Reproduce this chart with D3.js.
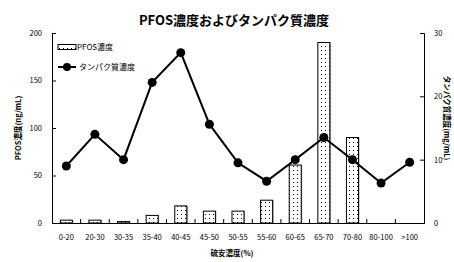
<!DOCTYPE html>
<html>
<head>
<meta charset="utf-8">
<script src="https://cdn.jsdelivr.net/npm/d3@7"></script>
<style>
  body { margin: 0; background: #fff; }
  svg text { font-family: "Noto Sans CJK JP", "Noto Sans", sans-serif; fill: #000; }
</style>
</head>
<body>
<div id="chart"></div>
<script>
// data
const categories = ["0-20", "20-30", "30-35", "35-40", "40-45", "45-50", "50-55",
                    "55-60", "60-65", "65-70", "70-80", "80-100", ">100"];
const pfosValues = [3, 3, 1.5, 8, 18, 12.5, 12.5, 24, 61, 190, 90, 0, 0];
const proteinValues = [9.0, 14.0, 10.0, 22.2, 26.9, 15.6, 9.5, 6.6, 10.0, 13.5, 10.0, 6.3, 9.6];
const leftTicks = [0, 50, 100, 150, 200];
const rightTicks = [0, 10, 20, 30];

const W = 454, H = 262;
const margin = {top: 33, right: 30, bottom: 39, left: 52};
const width = W - margin.left - margin.right;
const height = H - margin.top - margin.bottom;

const svg = d3.select("#chart").append("svg")
    .attr("width", W)
    .attr("height", H);

// dotted fill for the bars
const pat = svg.append("defs").append("pattern")
    .attr("id", "dots")
    .attr("patternUnits", "userSpaceOnUse")
    .attr("width", 4).attr("height", 4);
pat.append("rect").attr("width", 4).attr("height", 4).attr("fill", "#fff");
pat.append("rect").attr("x", 1).attr("y", 1).attr("width", 1).attr("height", 1).attr("fill", "#000");

const g = svg.append("g")
    .attr("transform", "translate(" + margin.left + "," + margin.top + ")");

const x = d3.scaleBand().domain(categories).range([0, width]);
const yL = d3.scaleLinear().domain([0, 200]).range([height, 0]);
const yR = d3.scaleLinear().domain([0, 30]).range([height, 0]);

// axes (ticks inside, like the original)
const xAxis = g.append("g")
    .attr("transform", "translate(0," + height + ")")
    .call(d3.axisBottom(x).tickSize(0).tickPadding(12));
xAxis.selectAll("text").style("font-size", "7.5px");

// category boundary ticks
g.selectAll(".xtick")
    .data(categories.slice(1))
    .enter().append("line")
    .attr("x1", d => x(d)).attr("x2", d => x(d))
    .attr("y1", height).attr("y2", height - 4)
    .attr("stroke", "#000");

const leftAxis = g.append("g")
    .call(d3.axisLeft(yL).tickValues(leftTicks).tickSizeInner(-4).tickSizeOuter(-4).tickPadding(10));
leftAxis.selectAll("text").style("font-size", "7.5px");

const rightAxis = g.append("g")
    .attr("transform", "translate(" + width + ",0)")
    .call(d3.axisRight(yR).tickValues(rightTicks).tickSizeInner(-4).tickSizeOuter(-4).tickPadding(10));
rightAxis.selectAll("text").style("font-size", "7.5px");

g.selectAll(".domain").attr("stroke", "#000");

// bars
const barData = pfosValues.map((v, i) => ({k: categories[i], v: v})).filter(d => d.v > 0);
const bw = x.bandwidth() * 0.42;
g.selectAll(".bar-shadow")
    .data(barData)
    .enter().append("rect")
    .attr("class", "bar-shadow")
    .attr("x", d => x(d.k) + (x.bandwidth() - bw) / 2 + 1)
    .attr("y", d => yL(d.v))
    .attr("width", bw)
    .attr("height", d => height - yL(d.v))
    .attr("fill", "#999");

g.selectAll(".bar")
    .data(barData)
    .enter().append("rect")
    .attr("class", "bar")
    .attr("x", d => x(d.k) + (x.bandwidth() - bw) / 2)
    .attr("y", d => yL(d.v))
    .attr("width", bw)
    .attr("height", d => height - yL(d.v))
    .attr("fill", "url(#dots)")
    .attr("stroke", "#000")
    .attr("stroke-width", 1);

// protein line
const line = d3.line()
    .x((d, i) => x(categories[i]) + x.bandwidth() / 2)
    .y(d => yR(d));

g.append("path")
    .datum(proteinValues)
    .attr("fill", "none")
    .attr("stroke", "#000")
    .attr("stroke-width", 2)
    .attr("d", line);

g.selectAll(".dot")
    .data(proteinValues)
    .enter().append("circle")
    .attr("cx", (d, i) => x(categories[i]) + x.bandwidth() / 2)
    .attr("cy", d => yR(d))
    .attr("r", 4.5)
    .attr("fill", "#000");

// legend
const leg = svg.append("g").attr("transform", "translate(58,47)");
leg.append("rect")
    .attr("x", 0).attr("y", -2.5).attr("width", 18).attr("height", 5)
    .attr("fill", "url(#dots)").attr("stroke", "#000");
leg.append("text").attr("x", 19).attr("y", 3).style("font-size", "8px").text("PFOS濃度");
leg.append("line").attr("x1", 0).attr("x2", 18).attr("y1", 20).attr("y2", 20)
    .attr("stroke", "#000").attr("stroke-width", 2);
leg.append("circle").attr("cx", 9).attr("cy", 20).attr("r", 4).attr("fill", "#000");
leg.append("text").attr("x", 21).attr("y", 23).style("font-size", "8px").text("タンパク質濃度");

// title and axis labels
svg.append("text")
    .attr("x", 234).attr("y", 25)
    .attr("text-anchor", "middle")
    .style("font-size", "13px").style("font-weight", "bold")
    .text("PFOS濃度およびタンパク質濃度");

svg.append("text")
    .attr("transform", "translate(21," + (margin.top + height / 2) + ") rotate(-90)")
    .attr("text-anchor", "middle")
    .style("font-size", "7.5px").style("font-weight", "bold")
    .text("PFOS濃度(ng/mL)");

svg.append("text")
    .attr("transform", "translate(444," + (margin.top + height / 2 - 10) + ") rotate(90)")
    .attr("text-anchor", "middle")
    .style("font-size", "7.5px").style("font-weight", "bold")
    .text("タンパク質濃度(mg/mL)");

svg.append("text")
    .attr("x", 232).attr("y", 256)
    .attr("text-anchor", "middle")
    .style("font-size", "7.5px").style("font-weight", "bold")
    .text("硫安濃度(%)");
</script>
</body>
</html>
